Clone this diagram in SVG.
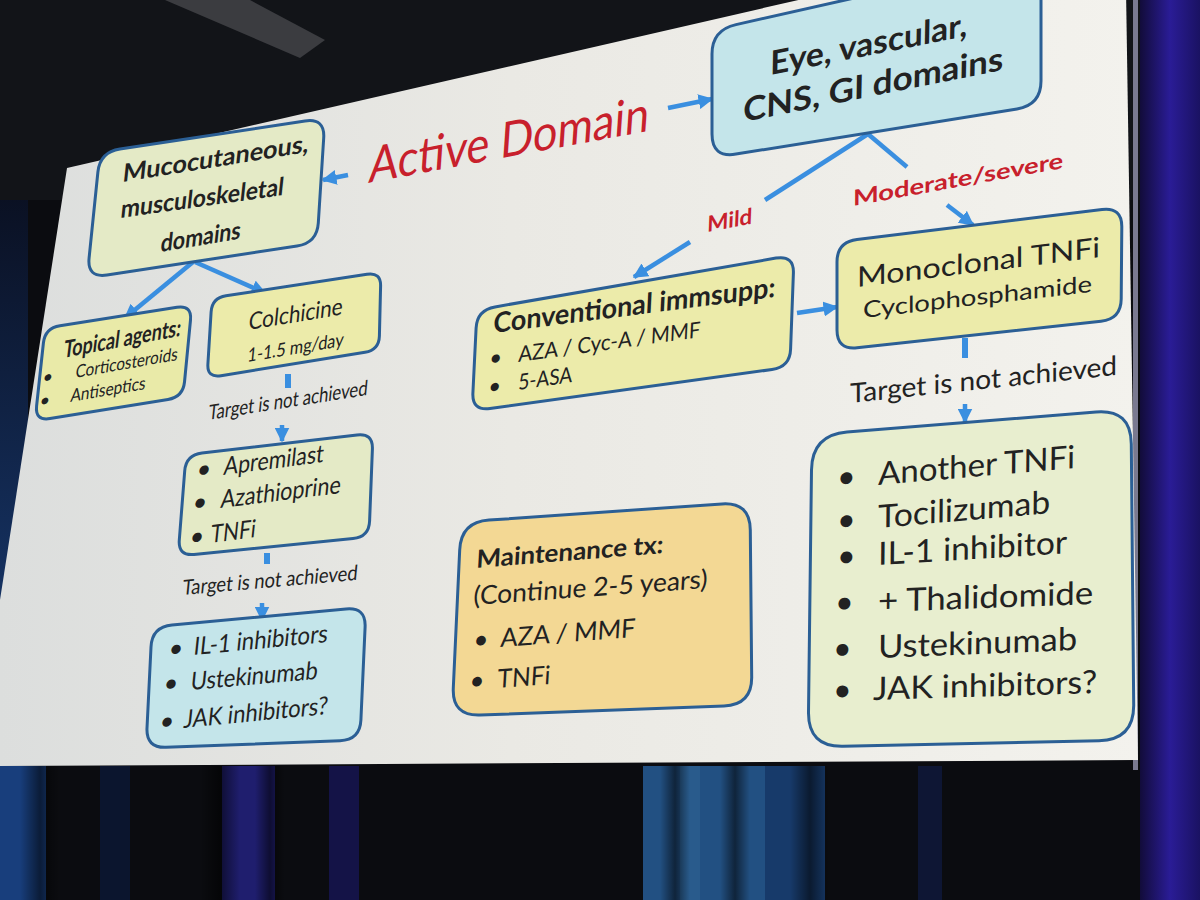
<svg xmlns="http://www.w3.org/2000/svg" width="1200" height="900" viewBox="0 0 1200 900">
<defs>
  <linearGradient id="slideg" x1="0" y1="0" x2="1" y2="0">
    <stop offset="0" stop-color="#dcdedd"/>
    <stop offset="0.45" stop-color="#eae9e4"/>
    <stop offset="1" stop-color="#f3f2ed"/>
  </linearGradient>
  <linearGradient id="rightg" x1="0" y1="0" x2="1" y2="0">
    <stop offset="0" stop-color="#120c3a"/>
    <stop offset="0.5" stop-color="#2a1c96"/>
    <stop offset="1" stop-color="#1a1262"/>
  </linearGradient>
  <linearGradient id="bluel" x1="0" y1="0" x2="0" y2="1">
    <stop offset="0" stop-color="#0a1430"/>
    <stop offset="1" stop-color="#1d4fa0"/>
  </linearGradient>
  <linearGradient id="fold" x1="0" y1="0" x2="1" y2="0">
    <stop offset="0" stop-color="#000" stop-opacity="0"/>
    <stop offset="0.5" stop-color="#000" stop-opacity="0.55"/>
    <stop offset="1" stop-color="#000" stop-opacity="0"/>
  </linearGradient>
  <marker id="ah" viewBox="0 0 10 10" refX="9" refY="5" markerWidth="15" markerHeight="15" markerUnits="userSpaceOnUse" orient="auto">
    <path d="M0,0 L10,5 L0,10 z" fill="#3a8fe0"/>
  </marker>
</defs>
<style>
  .box{stroke:#2b5f95;stroke-width:3}
  .t{font-family:Lato,"Liberation Sans",sans-serif;fill:#222}
  .b{font-weight:700}
  .red{fill:#c8202c}
  .con{stroke:#3a8fe0;stroke-width:4.5;fill:none}
  .stub{stroke:#3a8fe0;stroke-width:6;fill:none}
  .g1{fill:#e4eac6}
  .g2{fill:#e9eaa8}
  .cy{fill:#c4e5ea}
  .yl{fill:#ecebaa}
  .pg{fill:#e8eecf}
  .or{fill:#f3d894}
  .cur{opacity:0.75}
</style>

<g id="background">
  <rect x="0" y="0" width="1200" height="900" fill="#0b0c10"/>
  <rect x="0" y="0" width="1200" height="200" fill="#121418"/>
  <polygon points="165,0 250,0 325,40 300,58" fill="#3b3c40"/>
  <rect x="0" y="200" width="28" height="430" fill="url(#bluel)" opacity="0.6"/>
  <g class="cur">
    <rect x="0" y="766" width="46" height="134" fill="#1d4fa0"/>
    <rect x="100" y="766" width="30" height="134" fill="#0c1838"/>
    <rect x="222" y="766" width="53" height="134" fill="#26248e"/>
    <rect x="329" y="766" width="30" height="134" fill="#18165a"/>
    <rect x="643" y="766" width="122" height="134" fill="#2a67a8"/>
    <rect x="680" y="766" width="20" height="134" fill="#3a80c0" opacity="0.6"/>
    <rect x="765" y="766" width="60" height="134" fill="#1b4a88"/>
    <rect x="918" y="766" width="24" height="134" fill="#0f1a40"/>
  </g>
  <rect x="20" y="766" width="40" height="134" fill="url(#fold)"/>
  <rect x="200" y="766" width="40" height="134" fill="url(#fold)"/>
  <rect x="255" y="766" width="30" height="134" fill="url(#fold)"/>
  <rect x="660" y="766" width="30" height="134" fill="url(#fold)"/>
  <rect x="720" y="766" width="30" height="134" fill="url(#fold)"/>
  <rect x="790" y="766" width="40" height="134" fill="url(#fold)"/>
  <rect x="1140" y="0" width="60" height="900" fill="url(#rightg)"/>
  <rect x="1133" y="0" width="5" height="770" fill="#7a7a90"/>
</g>

<g id="slide">
  <polygon points="67,168 1125,-75 1138,760 0,766 0,600" fill="url(#slideg)"/>
</g>

<g id="connectors">
  <line class="con" x1="348" y1="175" x2="323" y2="180" marker-end="url(#ah)"/>
  <line class="con" x1="668" y1="108" x2="712" y2="99" marker-end="url(#ah)"/>
  <line class="con" x1="868" y1="134" x2="765" y2="200"/>
  <line class="con" x1="690" y1="242" x2="634" y2="277" marker-end="url(#ah)"/>
  <line class="con" x1="868" y1="134" x2="907" y2="167"/>
  <line class="con" x1="947" y1="205" x2="973" y2="225" marker-end="url(#ah)"/>
  <line class="con" x1="797" y1="313" x2="837" y2="307" marker-end="url(#ah)"/>
  <line class="con" x1="193" y1="262" x2="125" y2="318" marker-end="url(#ah)"/>
  <line class="con" x1="195" y1="262" x2="265" y2="293" marker-end="url(#ah)"/>
  <line class="stub" x1="288" y1="374" x2="288" y2="388"/>
  <line class="con" x1="282" y1="425" x2="282" y2="441" marker-end="url(#ah)"/>
  <line class="stub" x1="267" y1="553" x2="267" y2="564"/>
  <line class="con" x1="262" y1="603" x2="262" y2="620" marker-end="url(#ah)"/>
  <line class="stub" x1="965" y1="338" x2="965" y2="358"/>
  <line class="con" x1="965" y1="404" x2="965" y2="422" marker-end="url(#ah)"/>
  <text class="t b red" font-size="22" transform="matrix(1,-0.186,-0.04,1,707,232)" textLength="45" lengthAdjust="spacingAndGlyphs">Mild</text>
  <text class="t b red" font-size="22" transform="matrix(1,-0.181,-0.005,1,853,206)" textLength="210" lengthAdjust="spacingAndGlyphs">Moderate/severe</text>
  <text class="t" font-size="21" transform="matrix(1,-0.157,-0.1,1,208,420)" textLength="159" lengthAdjust="spacingAndGlyphs">Target is not achieved</text>
  <text class="t" font-size="21" transform="matrix(1,-0.086,-0.1,1,182,595)" textLength="175" lengthAdjust="spacingAndGlyphs">Target is not achieved</text>
  <text class="t" font-size="27" transform="matrix(1,-0.105,0,1,850,403)" textLength="267" lengthAdjust="spacingAndGlyphs">Target is not achieved</text>
</g>

<g id="active-domain">
  <text class="t red" font-size="50" transform="matrix(1,-0.186,-0.07,1,368,183)" textLength="280" lengthAdjust="spacingAndGlyphs">Active Domain</text>
</g>

<g id="eye-domains">
  <path class="box cy" d="M736,24.6 L1017,-38.6 Q1041,-44 1041,-20 L1041,81 Q1041,105 1017,108.9 L736,154.1 Q712,158 712,134 L712,54 Q712,30 736,24.6 Z"/>
  <text class="t b" font-size="33" transform="matrix(1,-0.198,-0.02,1,770,75)" textLength="197" lengthAdjust="spacingAndGlyphs">Eye, vascular,</text>
  <text class="t b" font-size="33" transform="matrix(1,-0.2,-0.02,1,743,122)" textLength="260" lengthAdjust="spacingAndGlyphs">CNS, GI domains</text>
</g>

<g id="mucocutaneous">
  <path class="box g1" d="M120,149 L305,121 Q325,118 323.7,138 L318.3,223 Q317,243 297,246 L107,275 Q87,278 89.1,258 L97.9,172 Q100,152 120,149 Z"/>
  <text class="t b" font-size="25" transform="matrix(1,-0.161,-0.11,1,122,182)" textLength="186" lengthAdjust="spacingAndGlyphs">Mucocutaneous,</text>
  <text class="t b" font-size="25" transform="matrix(1,-0.141,-0.11,1,120,218)" textLength="163" lengthAdjust="spacingAndGlyphs">musculoskeletal</text>
  <text class="t b" font-size="25" transform="matrix(1,-0.165,-0.11,1,160,252)" textLength="80" lengthAdjust="spacingAndGlyphs">domains</text>
</g>

<g id="topical">
  <path class="box g2" d="M60,325.7 L177,307.3 Q192,305 190.5,320 L184.5,382 Q183,397 168,399.4 L50,418.6 Q35,421 36.6,406 L43.4,343 Q45,328 60,325.7 Z"/>
  <text class="t b" font-size="24" transform="matrix(1,-0.19,-0.125,1,63,358)" textLength="117" lengthAdjust="spacingAndGlyphs">Topical agents:</text>
  <text class="t" font-size="18" transform="matrix(1,-0.176,-0.125,1,75,378)" x="-33">•</text>
  <text class="t" font-size="18" transform="matrix(1,-0.176,-0.125,1,75,378)" textLength="102" lengthAdjust="spacingAndGlyphs">Corticosteroids</text>
  <text class="t" font-size="18" transform="matrix(1,-0.173,-0.125,1,70,402)" x="-31">•</text>
  <text class="t" font-size="18" transform="matrix(1,-0.173,-0.125,1,70,402)" textLength="75" lengthAdjust="spacingAndGlyphs">Antiseptics</text>
</g>

<g id="colchicine">
  <path class="box yl" d="M226,295.8 L367,274.2 Q381,272 380.6,286 L379.4,336 Q379,350 365,352.3 L221,375.7 Q207,378 207.9,364 L211.1,312 Q212,298 226,295.8 Z"/>
  <text class="t" font-size="24" transform="matrix(1,-0.165,-0.1,1,248,330)" textLength="94" lengthAdjust="spacingAndGlyphs">Colchicine</text>
  <text class="t" font-size="19" transform="matrix(1,-0.167,-0.1,1,247,362)" textLength="96" lengthAdjust="spacingAndGlyphs">1-1.5 mg/day</text>
</g>

<g id="apremilast">
  <path class="box g1" d="M202,453.1 L357,434.9 Q373,433 372.4,449 L369.6,521 Q369,537 353,538.6 L194,554.4 Q178,556 179.3,540 L184.7,471 Q186,455 202,453.1 Z"/>
  <text class="t" font-size="25" transform="matrix(1,-0.13,-0.105,1,223,475)" x="-27">•</text>
  <text class="t" font-size="25" transform="matrix(1,-0.13,-0.105,1,223,475)" textLength="100" lengthAdjust="spacingAndGlyphs">Apremilast</text>
  <text class="t" font-size="25" transform="matrix(1,-0.125,-0.105,1,220,508)" x="-28">•</text>
  <text class="t" font-size="25" transform="matrix(1,-0.125,-0.105,1,220,508)" textLength="120" lengthAdjust="spacingAndGlyphs">Azathioprine</text>
  <text class="t" font-size="25" transform="matrix(1,-0.13,-0.105,1,210,543)" x="-21">•</text>
  <text class="t" font-size="25" transform="matrix(1,-0.13,-0.105,1,210,543)" textLength="45" lengthAdjust="spacingAndGlyphs">TNFi</text>
</g>

<g id="il1-left">
  <path class="box cy" d="M172,625.1 L346,608.9 Q366,607 365.1,627 L360.9,720 Q360,740 340,740.7 L166,747.3 Q146,748 147,728 L151,647 Q152,627 172,625.1 Z"/>
  <text class="t" font-size="25" transform="matrix(1,-0.097,-0.105,1,193,655)" x="-25">•</text>
  <text class="t" font-size="25" transform="matrix(1,-0.097,-0.105,1,193,655)" textLength="134" lengthAdjust="spacingAndGlyphs">IL-1 inhibitors</text>
  <text class="t" font-size="25" transform="matrix(1,-0.087,-0.105,1,190,690)" x="-27">•</text>
  <text class="t" font-size="25" transform="matrix(1,-0.087,-0.105,1,190,690)" textLength="127" lengthAdjust="spacingAndGlyphs">Ustekinumab</text>
  <text class="t" font-size="25" transform="matrix(1,-0.097,-0.105,1,183,728)" x="-24">•</text>
  <text class="t" font-size="25" transform="matrix(1,-0.097,-0.105,1,183,728)" textLength="144" lengthAdjust="spacingAndGlyphs">JAK inhibitors?</text>
</g>

<g id="conventional">
  <path class="box yl" d="M495,306.9 L776,258.1 Q794,255 793.4,273 L790.6,349 Q790,367 772,369.5 L490,408.5 Q472,411 472.9,393 L476.1,328 Q477,310 495,306.9 Z"/>
  <text class="t b" font-size="28" transform="matrix(1,-0.128,-0.05,1,493,333)" textLength="282" lengthAdjust="spacingAndGlyphs">Conventional immsupp:</text>
  <text class="t" font-size="22" transform="matrix(1,-0.137,-0.05,1,518,362)" x="-29">•</text>
  <text class="t" font-size="22" transform="matrix(1,-0.137,-0.05,1,518,362)" textLength="182" lengthAdjust="spacingAndGlyphs">AZA / Cyc-A / MMF</text>
  <text class="t" font-size="22" transform="matrix(1,-0.148,-0.05,1,518,390)" x="-30">•</text>
  <text class="t" font-size="22" transform="matrix(1,-0.148,-0.05,1,518,390)" textLength="54" lengthAdjust="spacingAndGlyphs">5-ASA</text>
</g>

<g id="monoclonal">
  <path class="box yl" d="M857,239.5 L1102,209.5 Q1122,207 1121.8,227 L1121.2,299 Q1121,319 1101,321.2 L857,347.8 Q837,350 837,330 L837,262 Q837,242 857,239.5 Z"/>
  <text class="t" font-size="28" transform="matrix(1,-0.123,0,1,857,287)" textLength="243" lengthAdjust="spacingAndGlyphs">Monoclonal TNFi</text>
  <text class="t" font-size="23" transform="matrix(1,-0.114,0,1,863,318)" textLength="229" lengthAdjust="spacingAndGlyphs">Cyclophosphamide</text>
</g>

<g id="another-tnfi">
  <path class="box pg" d="M847,432.1 L1096,411.9 Q1131,409 1131.3,444 L1133.7,705 Q1134,740 1099,740.75 L843,746.25 Q808,747 808.5,712 L811.5,470 Q812,435 847,432.1 Z"/>
  <text class="t" font-size="32" transform="matrix(1,-0.086,-0.01,1,878,485)" x="-41">•</text>
  <text class="t" font-size="32" transform="matrix(1,-0.086,-0.01,1,878,485)" textLength="197" lengthAdjust="spacingAndGlyphs">Another TNFi</text>
  <text class="t" font-size="32" transform="matrix(1,-0.087,-0.01,1,878,528)" x="-41">•</text>
  <text class="t" font-size="32" transform="matrix(1,-0.087,-0.01,1,878,528)" textLength="172" lengthAdjust="spacingAndGlyphs">Tocilizumab</text>
  <text class="t" font-size="32" transform="matrix(1,-0.062,-0.01,1,878,565)" x="-41">•</text>
  <text class="t" font-size="32" transform="matrix(1,-0.062,-0.01,1,878,565)" textLength="189" lengthAdjust="spacingAndGlyphs">IL-1 inhibitor</text>
  <text class="t" font-size="32" transform="matrix(1,-0.037,-0.01,1,878,612)" x="-43">•</text>
  <text class="t" font-size="32" transform="matrix(1,-0.037,-0.01,1,878,612)" textLength="215" lengthAdjust="spacingAndGlyphs">+ Thalidomide</text>
  <text class="t" font-size="32" transform="matrix(1,-0.04,-0.01,1,878,658)" x="-45">•</text>
  <text class="t" font-size="32" transform="matrix(1,-0.04,-0.01,1,878,658)" textLength="199" lengthAdjust="spacingAndGlyphs">Ustekinumab</text>
  <text class="t" font-size="32" transform="matrix(1,-0.031,-0.01,1,873,700)" x="-40">•</text>
  <text class="t" font-size="32" transform="matrix(1,-0.031,-0.01,1,873,700)" textLength="224" lengthAdjust="spacingAndGlyphs">JAK inhibitors?</text>
</g>

<g id="maintenance">
  <path class="box or" d="M489,520.1 L722,503.9 Q750,502 750.3,530 L751.7,677 Q752,705 724,706 L480,715 Q452,716 453.3,688 L459.7,550 Q461,522 489,520.1 Z"/>
  <text class="t b" font-size="25" transform="matrix(1,-0.08,-0.06,1,476,568)" textLength="187" lengthAdjust="spacingAndGlyphs">Maintenance tx:</text>
  <text class="t" font-size="26" transform="matrix(1,-0.073,-0.06,1,473,605)" textLength="234" lengthAdjust="spacingAndGlyphs">(Continue 2-5 years)</text>
  <text class="t" font-size="26" transform="matrix(1,-0.074,-0.06,1,500,647)" x="-27">•</text>
  <text class="t" font-size="26" transform="matrix(1,-0.074,-0.06,1,500,647)" textLength="135" lengthAdjust="spacingAndGlyphs">AZA / MMF</text>
  <text class="t" font-size="26" transform="matrix(1,-0.075,-0.06,1,497,688)" x="-28">•</text>
  <text class="t" font-size="26" transform="matrix(1,-0.075,-0.06,1,497,688)" textLength="53" lengthAdjust="spacingAndGlyphs">TNFi</text>
</g>
</svg>
